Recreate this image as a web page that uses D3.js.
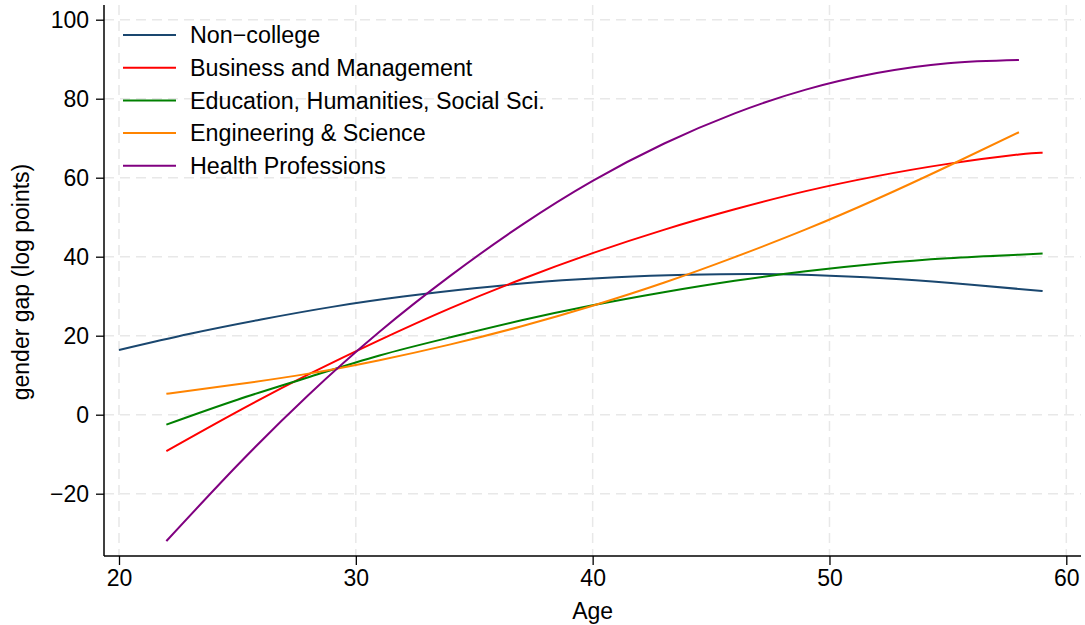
<!DOCTYPE html>
<html>
<head>
<meta charset="utf-8">
<script src="https://cdn.jsdelivr.net/npm/d3@7"></script>
<style>
  html, body { margin: 0; padding: 0; background: #fff; }
  svg { display: block; font-family: "Liberation Sans", Arial, Helvetica, sans-serif; }
</style>
</head>
<body>
<svg id="chart" width="1085" height="625"></svg>
<script>
// ---- data ----
const xTicks = [20, 30, 40, 50, 60];
const yTicks = [-20, 0, 20, 40, 60, 80, 100];

const agesNonCollege = [20, 23, 26, 29, 32, 35, 38, 41, 44, 47, 50, 53, 56, 59];
const nonCollege     = [16.4, 20.5, 24.1, 27.3, 29.9, 32.0, 33.7, 34.8, 35.4, 35.6, 35.2, 34.3, 32.9, 31.3];

const agesTo59 = [22, 25, 28, 31, 34, 37, 40, 43, 46, 49, 52, 55, 58, 59];
const business  = [-9.2, 0.8, 10.2, 18.9, 27.0, 34.3, 40.9, 46.8, 52.0, 56.6, 60.4, 63.5, 65.9, 66.3];
const education = [-2.5, 3.8, 9.5, 15.0, 19.6, 23.9, 27.7, 31.0, 33.9, 36.3, 38.2, 39.6, 40.5, 40.8];

const agesTo58 = [22, 25, 28, 31, 34, 37, 40, 43, 46, 49, 52, 55, 58];
const engineering = [5.3, 7.7, 10.4, 13.8, 17.8, 22.4, 27.6, 33.4, 39.9, 46.9, 54.6, 62.9, 71.5];
const health      = [-32.0, -12.8, 5.0, 21.0, 35.2, 48.0, 59.2, 68.6, 76.3, 82.3, 86.5, 89.0, 89.8];

const seriesNames  = ["Non\u2212college", "Business and Management", "Education, Humanities, Social Sci.", "Engineering & Science", "Health Professions"];
const seriesAges   = [agesNonCollege, agesTo59, agesTo59, agesTo58, agesTo58];
const seriesValues = [nonCollege, business, education, engineering, health];
const seriesColors = ["#1a476f", "#ff0000", "#008000", "#ff8400", "#800080"];

// ---- layout ----
const plot = { left: 104, right: 1081, top: 5, bottom: 556 };
const x = d3.scaleLinear().domain([20, 60]).range([119, 1066.3]);
const y = d3.scaleLinear().domain([-20, 100]).range([493.7, 19.7]);

const svg = d3.select("#chart");
const fontSize = 23;
const legendFont = 23.3;

// grid
const grid = svg.append("g").attr("stroke", "#e8e8e8").attr("stroke-width", 1.5)
  .attr("stroke-dasharray", "10,6").attr("fill", "none");
grid.selectAll("line.h").data(yTicks).enter().append("line")
  .attr("x1", plot.left).attr("x2", plot.right)
  .attr("y1", d => y(d)).attr("y2", d => y(d));
grid.selectAll("line.v").data(xTicks).enter().append("line")
  .attr("y1", plot.top).attr("y2", plot.bottom)
  .attr("x1", d => x(d)).attr("x2", d => x(d));

// axes
const xAxis = d3.axisBottom(x).tickValues(xTicks).tickSize(9).tickSizeOuter(0).tickPadding(5);
const gx = svg.append("g").attr("transform", `translate(0,${plot.bottom})`).call(xAxis);
gx.select(".domain").remove();
gx.selectAll(".tick line").attr("stroke", "#000").attr("stroke-width", 1.3);
gx.selectAll(".tick text").attr("font-size", fontSize).attr("font-family", "Liberation Sans, Arial, sans-serif").attr("fill", "#000");

const yAxis = d3.axisLeft(y).tickValues(yTicks).tickSize(8).tickSizeOuter(0).tickPadding(7)
  .tickFormat(d => d < 0 ? "\u2212" + Math.abs(d) : String(d));
const gy = svg.append("g").attr("transform", `translate(${plot.left},0)`).call(yAxis);
gy.select(".domain").remove();
gy.selectAll(".tick line").attr("stroke", "#000").attr("stroke-width", 1.3);
gy.selectAll(".tick text").attr("font-size", fontSize).attr("font-family", "Liberation Sans, Arial, sans-serif").attr("fill", "#000");

svg.append("line").attr("x1", plot.left).attr("x2", plot.right)
  .attr("y1", plot.bottom).attr("y2", plot.bottom).attr("stroke", "#000").attr("stroke-width", 1.5);
svg.append("line").attr("x1", plot.left).attr("x2", plot.left)
  .attr("y1", plot.top).attr("y2", plot.bottom).attr("stroke", "#000").attr("stroke-width", 1.5);

// axis titles
svg.append("text").attr("x", (x(20) + x(60)) / 2).attr("y", 619)
  .attr("text-anchor", "middle").attr("font-size", fontSize).text("Age");
svg.append("text").attr("transform", `translate(29,${282}) rotate(-90)`)
  .attr("text-anchor", "middle").attr("font-size", fontSize).text("gender gap (log points)");

// lines
const line = d3.line().x(d => x(d[0])).y(d => y(d[1])).curve(d3.curveNatural);
seriesNames.forEach((name, i) => {
  const pts = seriesAges[i].map((a, j) => [a, seriesValues[i][j]]);
  svg.append("path").datum(pts).attr("d", line)
    .attr("fill", "none").attr("stroke", seriesColors[i]).attr("stroke-width", 2);
});

// legend
const legend = svg.append("g");
seriesNames.forEach((name, i) => {
  const ly = 35 + i * 32.7;
  legend.append("line").attr("x1", 123).attr("x2", 176).attr("y1", ly).attr("y2", ly)
    .attr("stroke", seriesColors[i]).attr("stroke-width", 2);
  legend.append("text").attr("x", 190).attr("y", ly).attr("dy", "0.36em")
    .attr("font-size", legendFont).attr("fill", "#000").text(name);
});
</script>
</body>
</html>
